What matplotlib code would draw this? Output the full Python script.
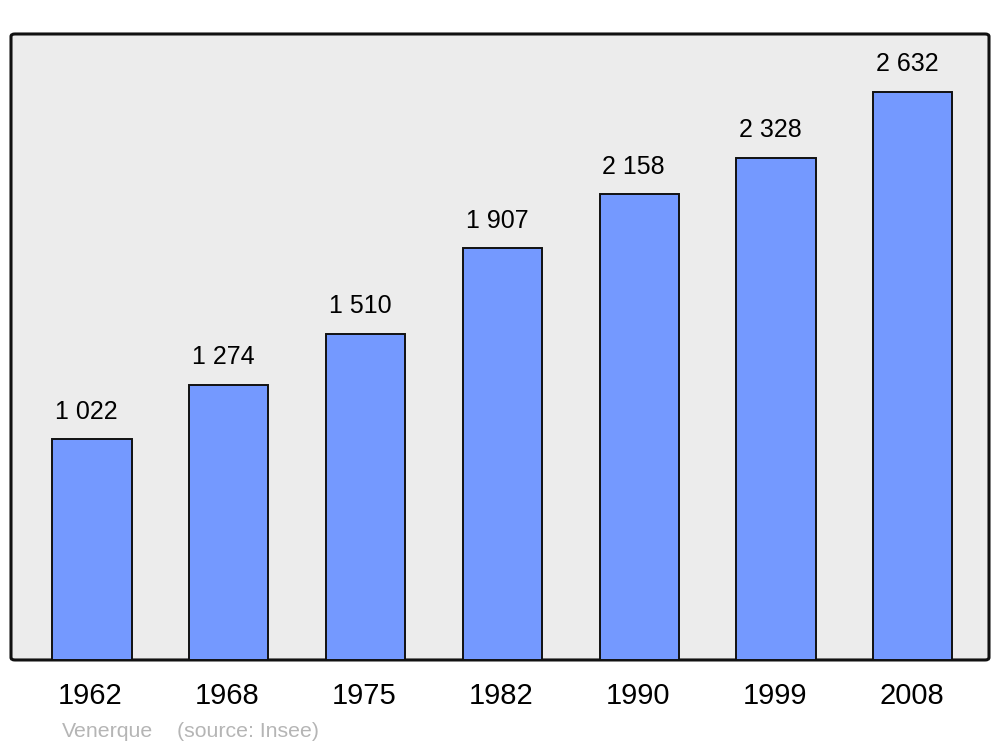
import matplotlib.pyplot as plt
from matplotlib.patches import FancyBboxPatch

plt.rcParams['font.family'] = ['Liberation Sans', 'DejaVu Sans']

years = ['1962', '1968', '1975', '1982', '1990', '1999', '2008']
population = [1022, 1274, 1510, 1907, 2158, 2328, 2632]

fig = plt.figure(figsize=(10, 7.47), dpi=100)
ax = fig.add_axes([0.011, 0.1165, 0.978, 0.838])
ax.set_facecolor('none')

# fond gris arrondi
frame = FancyBboxPatch((0, 0), 1, 1, boxstyle='round,pad=0,rounding_size=0.004',
                       transform=ax.transAxes, facecolor='#ececec',
                       edgecolor='#111111', linewidth=2.2, zorder=0, clip_on=False)
ax.add_patch(frame)

x = range(len(years))
bars = ax.bar(x, population, width=0.58, color='#7499ff', edgecolor='#111111',
              linewidth=1.4, zorder=2)

for xi, v in zip(x, population):
    ax.annotate(f"{v:,}".replace(",", " "), (xi, v), xytext=(-4, 20),
                textcoords='offset points', ha='center', va='center',
                fontsize=18, color='black')

ax.set_xlim(-0.592, 6.557)
ax.set_ylim(0, 2901)
ax.set_yticks([])
ax.set_xticks([xi - 0.01 for xi in x])
ax.set_xticklabels(years, fontsize=21)
ax.tick_params(axis='x', length=0, pad=16)
for s in ax.spines.values():
    s.set_visible(False)

fig.text(0.062, 0.0205, 'Venerque', fontsize=15.3, color='#b5b5b5', va='center')
fig.text(0.177, 0.0205, '(source: Insee)', fontsize=15.3, color='#b5b5b5', va='center')

fig.savefig('out.png', dpi=100)
